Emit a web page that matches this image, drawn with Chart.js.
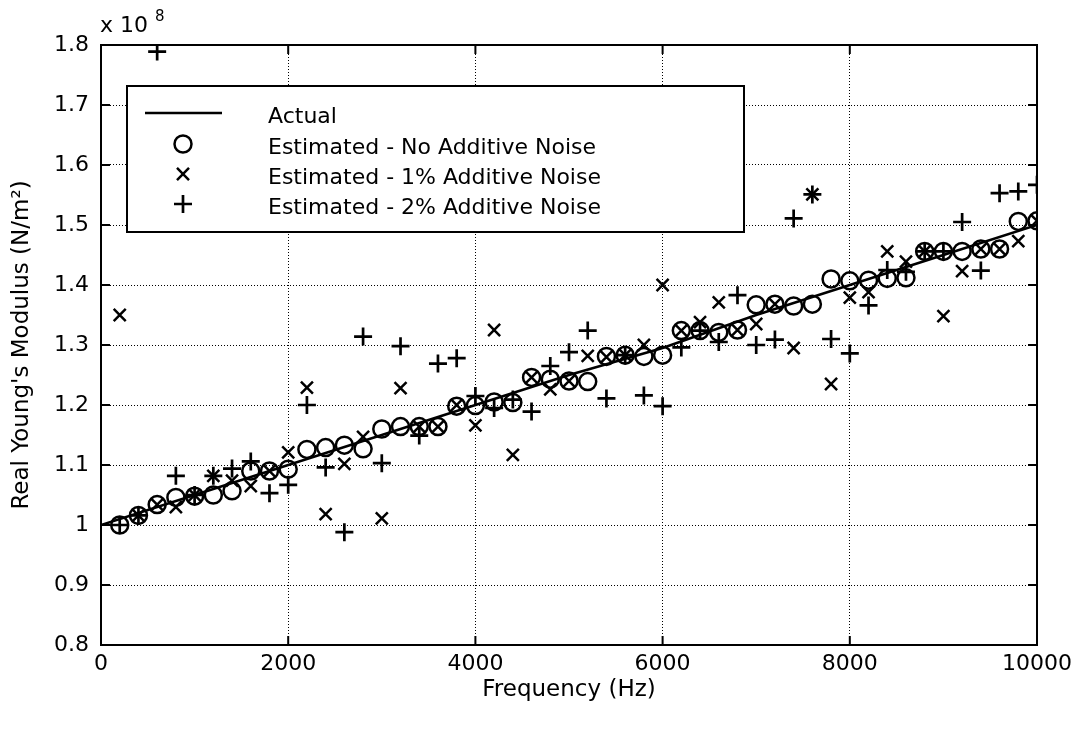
<!DOCTYPE html>
<html>
<head>
<meta charset="utf-8">
<title>Real Young's Modulus vs Frequency</title>
<script src="https://cdn.jsdelivr.net/npm/chart.js@4.4.0/dist/chart.umd.min.js"></script>
<style>
  html, body { margin: 0; padding: 0; background: #fff; }
  #wrap { width: 1078px; height: 729px; }
</style>
</head>
<body>
<div id="wrap"><canvas id="chart" width="1078" height="729"></canvas></div>
<script>
// values in units of 1e8 N/m^2
const freqs = [200, 400, 600, 800, 1000, 1200, 1400, 1600, 1800, 2000,
  2200, 2400, 2600, 2800, 3000, 3200, 3400, 3600, 3800, 4000,
  4200, 4400, 4600, 4800, 5000, 5200, 5400, 5600, 5800, 6000,
  6200, 6400, 6600, 6800, 7000, 7200, 7400, 7600, 7800, 8000,
  8200, 8400, 8600, 8800, 9000, 9200, 9400, 9600, 9800, 10000];

const noNoise = [1.000, 1.016, 1.034, 1.046, 1.048, 1.050, 1.057, 1.090, 1.090, 1.093,
  1.126, 1.129, 1.133, 1.127, 1.160, 1.164, 1.164, 1.164, 1.198, 1.199,
  1.205, 1.204, 1.246, 1.243, 1.240, 1.239, 1.281, 1.283, 1.281, 1.283,
  1.324, 1.324, 1.321, 1.325, 1.367, 1.368, 1.365, 1.368, 1.410, 1.407,
  1.408, 1.411, 1.412, 1.456, 1.456, 1.456, 1.460, 1.460, 1.506, 1.507];

const noise1 = [1.350, 1.016, 1.034, 1.030, 1.050, 1.082, 1.074, 1.065, 1.090, 1.121,
  1.229, 1.018, 1.102, 1.147, 1.011, 1.228, 1.164, 1.164, 1.200, 1.166,
  1.325, 1.117, 1.246, 1.226, 1.240, 1.282, 1.280, 1.283, 1.300, 1.400,
  1.324, 1.338, 1.371, 1.325, 1.335, 1.368, 1.295, 1.551, 1.235, 1.379,
  1.388, 1.456, 1.439, 1.456, 1.348, 1.423, 1.460, 1.460, 1.473, 1.507];

const noise2 = [1.000, 1.016, 1.789, 1.082, 1.050, 1.082, 1.094, 1.106, 1.053, 1.067,
  1.200, 1.096, 0.988, 1.314, 1.103, 1.298, 1.149, 1.269, 1.278, 1.215,
  1.195, 1.209, 1.189, 1.265, 1.288, 1.324, 1.211, 1.283, 1.216, 1.198,
  1.296, 1.324, 1.305, 1.383, 1.300, 1.309, 1.511, 1.551, 1.310, 1.286,
  1.366, 1.425, 1.422, 1.456, 1.456, 1.505, 1.424, 1.553, 1.556, 1.567];

const actualFreq = [0, 1000, 2000, 3000, 4000, 5000, 6000, 7000, 8000, 9000, 10000];
const actualVals = [1.0, 1.05, 1.1, 1.15, 1.2, 1.25, 1.295, 1.35, 1.4, 1.45, 1.5];

const xTicks = [0, 2000, 4000, 6000, 8000, 10000];
const yTicks = [0.8, 0.9, 1.0, 1.1, 1.2, 1.3, 1.4, 1.5, 1.6, 1.7, 1.8];

const labels = ["Actual", "Estimated - No Additive Noise",
  "Estimated - 1% Additive Noise", "Estimated - 2% Additive Noise"];

const FONT = "'DejaVu Sans', sans-serif";
const pts = (ys) => freqs.map((f, i) => ({ x: f, y: ys[i] }));

// MATLAB-ish frame: full box, inward ticks, legend, exponent label
const framePlugin = {
  id: "frame",
  afterDraw(chart) {
    const { ctx, chartArea: a, scales } = chart;
    ctx.save();
    ctx.strokeStyle = "#000";
    ctx.lineWidth = 2;
    ctx.strokeRect(a.left, a.top, a.right - a.left, a.bottom - a.top);

    const tl = 9;
    ctx.beginPath();
    scales.x.ticks.forEach((t) => {
      const px = scales.x.getPixelForValue(t.value);
      ctx.moveTo(px, a.bottom); ctx.lineTo(px, a.bottom - tl);
      ctx.moveTo(px, a.top); ctx.lineTo(px, a.top + tl);
    });
    scales.y.ticks.forEach((t) => {
      const py = scales.y.getPixelForValue(t.value);
      ctx.moveTo(a.left, py); ctx.lineTo(a.left + tl, py);
      ctx.moveTo(a.right, py); ctx.lineTo(a.right - tl, py);
    });
    ctx.stroke();

    // legend box
    const lx = 127, ly = 86, lw = 617, lh = 146;
    ctx.fillStyle = "#fff";
    ctx.fillRect(lx, ly, lw, lh);
    ctx.lineWidth = 2;
    ctx.strokeRect(lx, ly, lw, lh);

    const rows = [117, 148, 178, 208];
    const sx = 183;
    ctx.fillStyle = "#000";
    ctx.font = "22px " + FONT;
    ctx.textBaseline = "middle";
    ctx.textAlign = "left";
    chart.data.datasets.forEach((ds, i) => {
      const y = rows[i];
      ctx.fillText(ds.label, 268, y);
      const sy = y - 4;
      ctx.lineWidth = ds.borderWidth || 2;
      ctx.beginPath();
      if (i === 0) {
        ctx.moveTo(145, sy); ctx.lineTo(222, sy);
      } else if (ds.pointStyle === "circle") {
        ctx.arc(sx, sy, ds.pointRadius, 0, Math.PI * 2);
      } else if (ds.pointStyle === "crossRot") {
        const d = ds.pointRadius * Math.SQRT1_2;
        ctx.moveTo(sx - d, sy - d); ctx.lineTo(sx + d, sy + d);
        ctx.moveTo(sx - d, sy + d); ctx.lineTo(sx + d, sy - d);
      } else {
        const r = ds.pointRadius;
        ctx.moveTo(sx - r, sy); ctx.lineTo(sx + r, sy);
        ctx.moveTo(sx, sy - r); ctx.lineTo(sx, sy + r);
      }
      ctx.stroke();
    });

    // x 10^8 multiplier
    ctx.font = "22px " + FONT;
    ctx.textBaseline = "alphabetic";
    ctx.fillText("x 10", 100, 32);
    ctx.font = "15px " + FONT;
    ctx.fillText("8", 155, 21);
    ctx.restore();
  },
};

new Chart(document.getElementById("chart"), {
  type: "scatter",
  data: {
    datasets: [
      {
        label: labels[0],
        data: actualFreq.map((f, i) => ({ x: f, y: actualVals[i] })),
        showLine: true,
        borderColor: "#000",
        borderWidth: 2.5,
        pointRadius: 0,
        tension: 0,
      },
      {
        label: labels[1],
        data: pts(noNoise),
        pointStyle: "circle",
        pointRadius: 8.5,
        borderColor: "#000",
        backgroundColor: "rgba(0,0,0,0)",
        borderWidth: 2.5,
      },
      {
        label: labels[2],
        data: pts(noise1),
        pointStyle: "crossRot",
        pointRadius: 8.5,
        borderColor: "#000",
        backgroundColor: "rgba(0,0,0,0)",
        borderWidth: 2.5,
      },
      {
        label: labels[3],
        data: pts(noise2),
        pointStyle: "cross",
        pointRadius: 9,
        borderColor: "#000",
        backgroundColor: "rgba(0,0,0,0)",
        borderWidth: 2.7,
      },
    ],
  },
  options: {
    responsive: false,
    animation: false,
    devicePixelRatio: 1,
    layout: { padding: { left: 0, top: 45, right: 37, bottom: 0 } },
    plugins: { legend: { display: false }, tooltip: { enabled: false } },
    scales: {
      x: {
        type: "linear",
        min: 0,
        max: 10000,
        afterBuildTicks: (s) => { s.ticks = xTicks.map((v) => ({ value: v })); },
        afterFit: (s) => { s.height = 84; },
        grid: { color: "#000", lineWidth: 1, drawTicks: false },
        border: { display: false, dash: [1, 2] },
        ticks: {
          color: "#000",
          padding: 6,
          maxRotation: 0,
          font: { family: FONT, size: 22 },
          callback: (v) => String(v),
        },
        title: {
          display: true,
          text: "Frequency (Hz)",
          color: "#000",
          font: { family: FONT, size: 23 },
          padding: { top: 0, bottom: 25 },
        },
      },
      y: {
        type: "linear",
        min: 0.8,
        max: 1.8,
        afterBuildTicks: (s) => { s.ticks = yTicks.map((v) => ({ value: v })); },
        afterFit: (s) => { s.width = 101; },
        grid: { color: "#000", lineWidth: 1, drawTicks: false },
        border: { display: false, dash: [1, 2] },
        ticks: {
          color: "#000",
          padding: 12,
          font: { family: FONT, size: 22 },
          callback: (v) => String(+Number(v).toFixed(1)),
        },
        title: {
          display: true,
          text: "Real Young's Modulus (N/m\u00B2)",
          color: "#000",
          font: { family: FONT, size: 23 },
          padding: { top: 8, bottom: 0 },
        },
      },
    },
  },
  plugins: [framePlugin],
});
</script>
</body>
</html>
